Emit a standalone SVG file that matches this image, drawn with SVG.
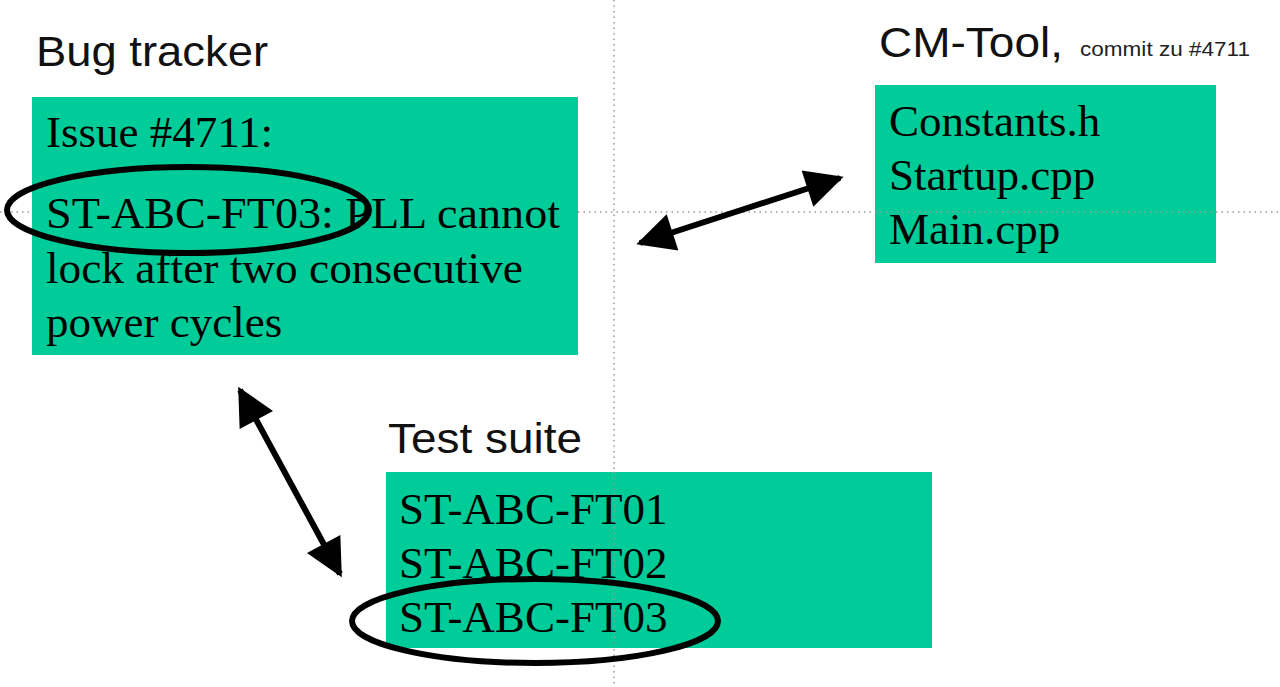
<svg xmlns="http://www.w3.org/2000/svg" width="1280" height="687" viewBox="0 0 1280 687">
<style>
.box{fill:#00CC99}
.title{font-family:"Liberation Sans",Arial,sans-serif;font-size:42px;fill:#111}
.body{font-family:"Liberation Serif","Times New Roman",serif;font-size:45px;fill:#000}
.guide{stroke:#999;stroke-width:1.5;stroke-dasharray:1.5 4;fill:none}
.ring{fill:none;stroke:#000;stroke-width:6}
.arrow{stroke:#000;stroke-width:6;fill:none;marker-start:url(#head);marker-end:url(#head)}
</style>
<defs>
<marker id="head" viewBox="0 0 10 10" refX="9" refY="5" markerUnits="userSpaceOnUse" markerWidth="42" markerHeight="38" orient="auto-start-reverse">
<path d="M0,0 L10,5 L0,10 Z" fill="#000"/>
</marker>
</defs>
<rect width="1280" height="687" fill="#fff"/>
<g id="guides">
<line class="guide" x1="614" y1="0" x2="614" y2="687"/>
<line class="guide" x1="0" y1="212" x2="32" y2="212"/>
<line class="guide" x1="578" y1="212" x2="1280" y2="212"/>
</g>
<g id="bug-tracker">
<text class="title" x="36" y="66" textLength="232" lengthAdjust="spacingAndGlyphs">Bug tracker</text>
<rect class="box" x="32" y="97" width="546" height="258"/>
<text class="body" x="46" y="147">Issue #4711:</text>
<text class="body" x="46" y="228" textLength="514" lengthAdjust="spacingAndGlyphs">ST-ABC-FT03: PLL cannot</text>
<text class="body" x="46" y="283" textLength="477" lengthAdjust="spacingAndGlyphs">lock after two consecutive</text>
<text class="body" x="46" y="337">power cycles</text>
<ellipse class="ring" cx="188" cy="210" rx="181" ry="43"/>
</g>
<g id="cm-tool">
<text class="title" x="879" y="57" textLength="184" lengthAdjust="spacingAndGlyphs">CM-Tool,</text>
<text x="1080" y="56" font-family="Liberation Sans, Arial, sans-serif" font-size="20" fill="#222" textLength="170" lengthAdjust="spacingAndGlyphs">commit zu #4711</text>
<rect class="box" x="875" y="85" width="341" height="178"/>
<line class="guide" x1="875" y1="212" x2="1216" y2="212"/>
<text class="body" x="889" y="136">Constants.h</text>
<text class="body" x="889" y="190">Startup.cpp</text>
<text class="body" x="889" y="244">Main.cpp</text>
</g>
<g id="test-suite">
<text class="title" x="388" y="453" textLength="194" lengthAdjust="spacingAndGlyphs">Test suite</text>
<rect class="box" x="386" y="472" width="546" height="176"/>
<line class="guide" x1="614" y1="472" x2="614" y2="648"/>
<text class="body" x="399" y="524">ST-ABC-FT01</text>
<text class="body" x="399" y="578">ST-ABC-FT02</text>
<text class="body" x="399" y="632">ST-ABC-FT03</text>
<ellipse class="ring" cx="535" cy="621" rx="183" ry="42"/>
</g>
<g id="connectors">
<line class="arrow" x1="640" y1="243" x2="840" y2="178"/>
<line class="arrow" x1="240" y1="390" x2="340" y2="574"/>
</g>
</svg>
